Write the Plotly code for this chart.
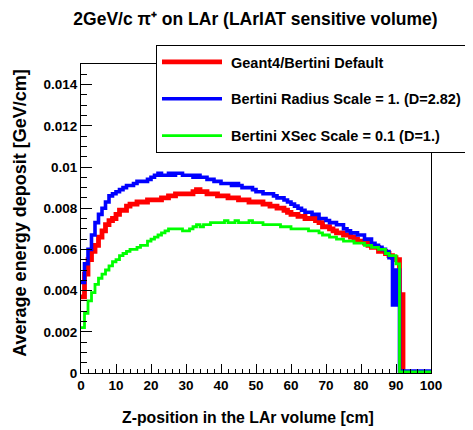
import numpy as np
import plotly.graph_objects as go

bin_edges = list(range(0, 101))

default_vals = [
    0.0037, 0.0048, 0.0055, 0.0059, 0.0062, 0.0066, 0.0069, 0.0072, 0.0074, 0.0075,
    0.0077, 0.0079, 0.0079, 0.0081, 0.0082, 0.0082, 0.0083, 0.0083, 0.0083, 0.0084,
    0.0084, 0.0084, 0.0084, 0.0085, 0.0085, 0.0086, 0.0086, 0.0087, 0.0087, 0.0087,
    0.0087, 0.0087, 0.0088, 0.0089, 0.0088, 0.0088, 0.0087, 0.0087, 0.0087, 0.0086,
    0.0086, 0.0086, 0.0085, 0.0085, 0.0085, 0.0084, 0.0084, 0.0084, 0.0083, 0.0083,
    0.0083, 0.0083, 0.0082, 0.0082, 0.0081, 0.0081, 0.0080, 0.0080, 0.0079, 0.0078,
    0.0077, 0.0077, 0.0076, 0.0076, 0.0075, 0.0075, 0.0075, 0.0074, 0.0073, 0.0071,
    0.0071, 0.0070, 0.0069, 0.0068, 0.0068, 0.0067, 0.0067, 0.0066, 0.0065, 0.0064,
    0.0064, 0.0063, 0.0062, 0.0061, 0.0061, 0.0059, 0.0059, 0.0058, 0.0057, 0.0056,
    0.0055, 0.0038, 0.0, 0.0, 0.0, 0.0, 0.0, 0.0, 0.0, 0.0,
]

radius_vals = [
    0.0044, 0.0053, 0.0060, 0.0067, 0.0073, 0.0077, 0.0080, 0.0083, 0.0086, 0.0087,
    0.0088, 0.0089, 0.0090, 0.0091, 0.0091, 0.0092, 0.0093, 0.0093, 0.0093, 0.0094,
    0.0095, 0.0096, 0.0097, 0.0096, 0.0096, 0.0097, 0.0096, 0.0097, 0.0097, 0.0096,
    0.0096, 0.0096, 0.0095, 0.0096, 0.0095, 0.0095, 0.0094, 0.0094, 0.0093, 0.0093,
    0.0092, 0.0092, 0.0092, 0.0091, 0.0092, 0.0091, 0.0090, 0.0090, 0.0090, 0.0089,
    0.0088, 0.0088, 0.0087, 0.0087, 0.0087, 0.0086, 0.0085, 0.0085, 0.0084, 0.0083,
    0.0082, 0.0081, 0.0080, 0.0079, 0.0078, 0.0078, 0.0077, 0.0077, 0.0075, 0.0075,
    0.0074, 0.0073, 0.0073, 0.0072, 0.0072, 0.0070, 0.0069, 0.0068, 0.0068, 0.0067,
    0.0067, 0.0065, 0.0065, 0.0063, 0.0062, 0.0061, 0.0060, 0.0059, 0.0056, 0.0033,
    0.0050, 0.0001, 0.0001, 0.0001, 0.0001, 0.0001, 0.0001, 0.0001, 0.0001, 0.0001,
]

xsec_vals = [
    0.0022, 0.0029, 0.0035, 0.0039, 0.0043, 0.0046, 0.0048, 0.0050, 0.0052, 0.0054,
    0.0055, 0.0057, 0.0058, 0.0059, 0.0060, 0.0060, 0.0061, 0.0062, 0.0062, 0.0064,
    0.0065, 0.0066, 0.0067, 0.0068, 0.0069, 0.0070, 0.0070, 0.0070, 0.0070, 0.0069,
    0.0069, 0.0070, 0.0071, 0.0072, 0.0071, 0.0072, 0.0072, 0.0073, 0.0073, 0.0073,
    0.0073, 0.0074, 0.0073, 0.0073, 0.0074, 0.0073, 0.0073, 0.0073, 0.0074, 0.0073,
    0.0073, 0.0073, 0.0072, 0.0072, 0.0072, 0.0072, 0.0072, 0.0071, 0.0071, 0.0071,
    0.0070, 0.0070, 0.0070, 0.0070, 0.0070, 0.0069, 0.0069, 0.0069, 0.0068, 0.0067,
    0.0067, 0.0066, 0.0066, 0.0065, 0.0065, 0.0064, 0.0064, 0.0064, 0.0063, 0.0063,
    0.0063, 0.0062, 0.0062, 0.0061, 0.0061, 0.0060, 0.0060, 0.0058, 0.0057, 0.0057,
    0.0053, 0.00005, 0.00005, 0.00005, 0.00005, 0.00005, 0.00005, 0.00005, 0.00005, 0.00005,
]

series_names = [
    "Geant4/Bertini Default",
    "Bertini Radius Scale = 1. (D=2.82)",
    "Bertini XSec Scale = 0.1 (D=1.)",
]
series_vals = [default_vals, radius_vals, xsec_vals]
series_colors = ["#ff0000", "#0000ff", "#00ff00"]
series_widths = [4.8, 3.6, 2.8]

FONT = "Liberation Sans"

# The page body adds an 8px offset, so the figure is laid out 8px smaller.
W, H = 465, 422
L, R, T, B = 73, 42, 56, 56.5
PW = W - L - R
PH = H - T - B

fig = go.Figure()
for i, (name, vals, col, w) in enumerate(zip(series_names, series_vals, series_colors, series_widths)):
    ys = list(vals) + [vals[-1]]
    fig.add_trace(go.Scatter(
        x=bin_edges, y=ys, mode="lines", name="\u00a0" + name,
        line=dict(color=col, width=w, shape="hv"),
        legendgroup="g%d" % i,
    ))

fig.update_layout(
    width=W, height=H,
    margin=dict(l=L, r=R, t=T, b=B, autoexpand=False),
    paper_bgcolor="white", plot_bgcolor="white",
    font=dict(family=FONT, size=13, color="black", weight="bold"),
    showlegend=True,
    legend=dict(
        x=(148 - L) / PW, y=(H - B - 37) / PH, xanchor="left", yanchor="top",
        xref="paper", yref="paper",
        bgcolor="white", bordercolor="black", borderwidth=1,
        font=dict(family=FONT, size=14.5, color="black", weight="bold"),
        traceorder="grouped", tracegroupgap=15, itemwidth=60,
    ),
    title=dict(
        text="2GeV/c π\u207a on LAr (LArIAT sensitive volume)",
        x=(247.5 - L) / PW, xref="paper", xanchor="center",
        y=1 - 11 / H, yref="container", yanchor="middle",
        font=dict(family=FONT, size=17.5, color="black", weight="bold"),
    ),
    xaxis=dict(
        range=[0, 100], showgrid=False, zeroline=False,
        showline=True, linecolor="black", linewidth=1, mirror=True,
        ticks="inside", ticklen=9, tickwidth=1, tickcolor="black",
        dtick=10, tick0=0,
        minor=dict(ticks="inside", ticklen=4.5, dtick=2, tickcolor="black", showgrid=False),
        tickfont=dict(family=FONT, size=13.5, weight="bold"),
    ),
    yaxis=dict(
        range=[0, 0.015], showgrid=False, zeroline=False,
        showline=True, linecolor="black", linewidth=1, mirror=True,
        ticks="inside", ticklen=11, tickwidth=1, tickcolor="black",
        dtick=0.002, tick0=0, tickformat="~g",
        minor=dict(ticks="inside", ticklen=6, dtick=0.0005, tickcolor="black", showgrid=False),
        tickfont=dict(family=FONT, size=13.5, weight="bold"),
    ),
    annotations=[
        dict(text="Z-position in the LAr volume [cm]", xref="paper", yref="paper",
             x=(239.5 - L) / PW, y=0, xanchor="center", yanchor="middle",
             yshift=-44.5, showarrow=False,
             font=dict(family=FONT, size=15.8, weight="bold")),
        dict(text="Average energy deposit [GeV/cm]", xref="paper", yref="paper",
             x=(12 - L) / PW, y=(H - B - 206) / PH, xanchor="center", yanchor="middle",
             textangle=-90, showarrow=False,
             font=dict(family=FONT, size=18, weight="bold")),
    ],
)

fig.write_html("out.html")
